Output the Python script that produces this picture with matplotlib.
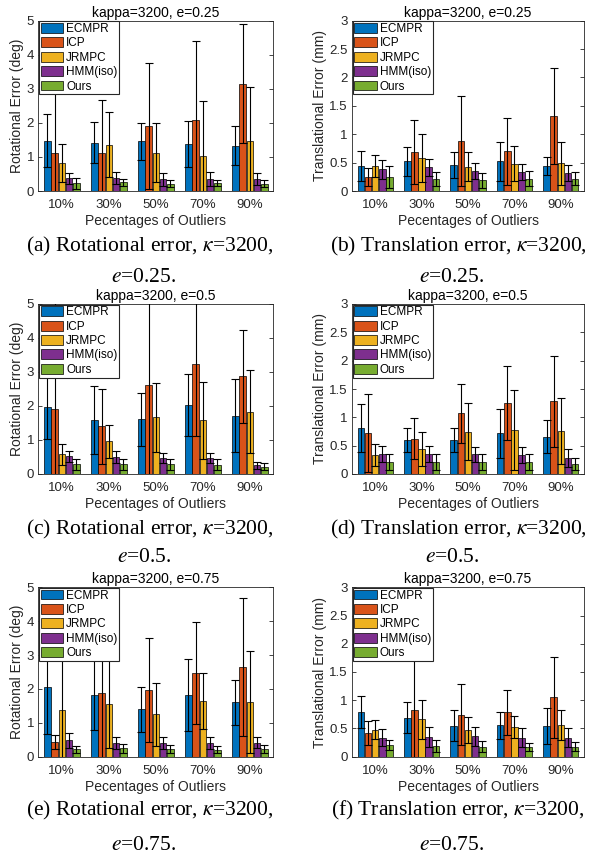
import numpy as np
import matplotlib
matplotlib.use("Agg")
import matplotlib.pyplot as plt
from matplotlib.ticker import FuncFormatter

plt.rcParams['font.family'] = ['Liberation Sans', 'DejaVu Sans']
plt.rcParams['mathtext.fontset'] = 'stix'

categories = ['10%', '30%', '50%', '70%', '90%']
methods = ['ECMPR', 'ICP', 'JRMPC', 'HMM(iso)', 'Ours']
colors = ['#0072BD', '#D95319', '#EDB120', '#7E2F8E', '#77AC30']

# (a) rotational, e=0.25  -- rows: methods, cols: categories
rot_025 = [[1.48, 1.42, 1.46, 1.38, 1.33],
           [1.13, 1.13, 1.90, 2.08, 3.15],
           [0.81, 1.36, 1.13, 1.03, 1.48],
           [0.37, 0.39, 0.35, 0.35, 0.36],
           [0.23, 0.25, 0.21, 0.23, 0.22]]
rot_025_err = [[0.77, 0.61, 0.54, 0.68, 0.58],
               [4.20, 1.55, 1.85, 2.33, 1.75],
               [0.56, 0.95, 0.87, 1.60, 1.58],
               [0.16, 0.17, 0.19, 0.21, 0.18],
               [0.16, 0.11, 0.10, 0.09, 0.10]]
# (b) translational, e=0.25
tra_025 = [[0.44, 0.52, 0.46, 0.52, 0.44],
           [0.25, 0.69, 0.88, 0.70, 1.32],
           [0.44, 0.58, 0.43, 0.48, 0.49],
           [0.38, 0.42, 0.36, 0.34, 0.31],
           [0.25, 0.21, 0.19, 0.22, 0.22]]
tra_025_err = [[0.27, 0.26, 0.23, 0.35, 0.16],
               [0.16, 0.56, 0.79, 0.59, 0.85],
               [0.19, 0.42, 0.25, 0.31, 0.38],
               [0.16, 0.15, 0.14, 0.14, 0.14],
               [0.19, 0.13, 0.13, 0.13, 0.12]]
# (c) rotational, e=0.5
rot_05 = [[1.98, 1.59, 1.61, 2.04, 1.71],
          [1.91, 1.40, 2.63, 3.24, 2.88],
          [0.58, 0.96, 1.67, 1.58, 1.83],
          [0.52, 0.51, 0.47, 0.47, 0.26],
          [0.29, 0.28, 0.28, 0.27, 0.22]]
rot_05_err = [[0.95, 1.01, 0.78, 0.91, 1.07],
              [3.50, 1.10, 2.80, 2.13, 1.37],
              [0.31, 0.48, 1.02, 1.14, 1.22],
              [0.17, 0.18, 0.16, 0.16, 0.10],
              [0.16, 0.17, 0.16, 0.16, 0.09]]
# (d) translational, e=0.5
tra_05 = [[0.81, 0.60, 0.60, 0.72, 0.66],
          [0.72, 0.62, 1.07, 1.25, 1.28],
          [0.34, 0.44, 0.75, 0.78, 0.76],
          [0.35, 0.35, 0.35, 0.34, 0.29],
          [0.21, 0.21, 0.21, 0.21, 0.18]]
tra_05_err = [[0.42, 0.21, 0.21, 0.43, 0.29],
              [0.69, 0.36, 0.52, 0.65, 0.80],
              [0.19, 0.30, 0.50, 0.71, 0.58],
              [0.14, 0.14, 0.13, 0.14, 0.16],
              [0.14, 0.14, 0.14, 0.14, 0.11]]
# (e) rotational, e=0.75
rot_075 = [[2.07, 1.83, 1.40, 1.81, 1.60],
           [0.44, 1.89, 1.97, 2.47, 2.64],
           [1.37, 1.55, 1.25, 1.65, 1.61],
           [0.48, 0.40, 0.40, 0.40, 0.41],
           [0.22, 0.25, 0.24, 0.21, 0.24]]
rot_075_err = [[1.40, 1.04, 0.67, 1.06, 0.66],
               [0.21, 2.20, 1.53, 1.50, 2.04],
               [1.90, 1.30, 0.94, 0.82, 1.50],
               [0.21, 0.17, 0.17, 0.17, 0.16],
               [0.11, 0.13, 0.12, 0.10, 0.12]]
# (f) translational, e=0.75
tra_075 = [[0.79, 0.69, 0.55, 0.56, 0.55],
           [0.42, 0.83, 0.74, 0.79, 1.05],
           [0.48, 0.66, 0.47, 0.53, 0.56],
           [0.34, 0.35, 0.36, 0.34, 0.34],
           [0.20, 0.19, 0.18, 0.17, 0.18]]
tra_075_err = [[0.28, 0.27, 0.28, 0.24, 0.32],
               [0.22, 0.88, 0.54, 0.40, 0.72],
               [0.17, 0.35, 0.23, 0.19, 0.26],
               [0.15, 0.18, 0.17, 0.17, 0.17],
               [0.09, 0.10, 0.10, 0.07, 0.08]]

titles = ['kappa=3200, e=0.25', 'kappa=3200, e=0.25',
          'kappa=3200, e=0.5', 'kappa=3200, e=0.5',
          'kappa=3200, e=0.75', 'kappa=3200, e=0.75']
ylabels = ['Rotational Error (deg)', 'Translational Error (mm)']
xlabel = 'Pecentages of Outliers'
captions = [('(a) Rotational error, $\\kappa$=3200,', '$e$=0.25.'),
            ('(b) Translation error, $\\kappa$=3200,', '$e$=0.25.'),
            ('(c) Rotational error, $\\kappa$=3200,', '$e$=0.5.'),
            ('(d) Translation error, $\\kappa$=3200,', '$e$=0.5.'),
            ('(e) Rotational error, $\\kappa$=3200,', '$e$=0.75.'),
            ('(f) Translation error, $\\kappa$=3200,', '$e$=0.75.')]

panels = [(rot_025, rot_025_err), (tra_025, tra_025_err),
          (rot_05, rot_05_err), (tra_05, tra_05_err),
          (rot_075, rot_075_err), (tra_075, tra_075_err)]

W, H = 592, 856
fig = plt.figure(figsize=(W / 100, H / 100), dpi=100)

cols_px = [(38.3, 273.3), (352.0, 584.0)]
rows_px = [(20.7, 191.0), (304.0, 474.0), (587.3, 756.7)]
cap_x = [150, 458]
cap_y = [(246, 277), (529, 558), (810, 845)]
axcol = '#262626'

x = np.arange(1, 6)
pitch = 0.154
bw = 0.14

for i, (vals, errs) in enumerate(panels):
    r, c = divmod(i, 2)
    l, rr = cols_px[c]
    t, b = rows_px[r]
    ax = fig.add_axes([l / W, 1 - b / H, (rr - l) / W, (b - t) / H])
    for k in range(5):
        xs = x + (k - 2) * pitch
        ax.bar(xs, vals[k], width=bw, color=colors[k], edgecolor='black',
               linewidth=0.5, label=methods[k], zorder=2)
        ax.errorbar(xs, vals[k], yerr=errs[k], fmt='none', ecolor='black',
                    elinewidth=0.8, capsize=2.6, capthick=0.8, zorder=3)
    ax.set_xlim(0.5, 5.5)
    if c == 0:
        ax.set_ylim(0, 5)
        ax.set_yticks(np.arange(0, 6, 1))
    else:
        ax.set_ylim(0, 3)
        ax.set_yticks(np.arange(0, 3.01, 0.5))
    ax.yaxis.set_major_formatter(FuncFormatter(lambda v, p: '%g' % v))
    ax.set_xticks(x)
    ax.set_xticklabels(categories)
    ax.tick_params(direction='in', length=3, width=0.6, labelsize=9.5,
                   colors=axcol, top=True, right=True, pad=3)
    ax.tick_params(axis='x', length=0, pad=6)
    for s in ax.spines.values():
        s.set_linewidth(0.6)
        s.set_color(axcol)
    ax.set_title(titles[i], fontsize=10, pad=3, color='black')
    ax.set_ylabel(ylabels[c], fontsize=10, color=axcol, labelpad=2)
    ax.set_xlabel(xlabel, fontsize=10, color=axcol, labelpad=2)
    leg = ax.legend(loc='upper left', fontsize=8.5, frameon=True, fancybox=False,
                    edgecolor=axcol, framealpha=1, borderaxespad=0.05,
                    borderpad=0.15, handlelength=1.9, handleheight=0.9,
                    handletextpad=0.25, labelspacing=0.2)
    leg.get_frame().set_linewidth(0.8)
    leg.set_zorder(10)
    # captions
    y1, y2 = cap_y[r]
    fig.text(cap_x[c] / W, 1 - y1 / H, captions[i][0], ha='center', va='center',
             fontsize=15.5, family='Liberation Serif')
    fig.text((cap_x[c] - 6) / W, 1 - y2 / H, captions[i][1], ha='center', va='center',
             fontsize=15.5, family='Liberation Serif')

fig.savefig('out.png', dpi=100)
